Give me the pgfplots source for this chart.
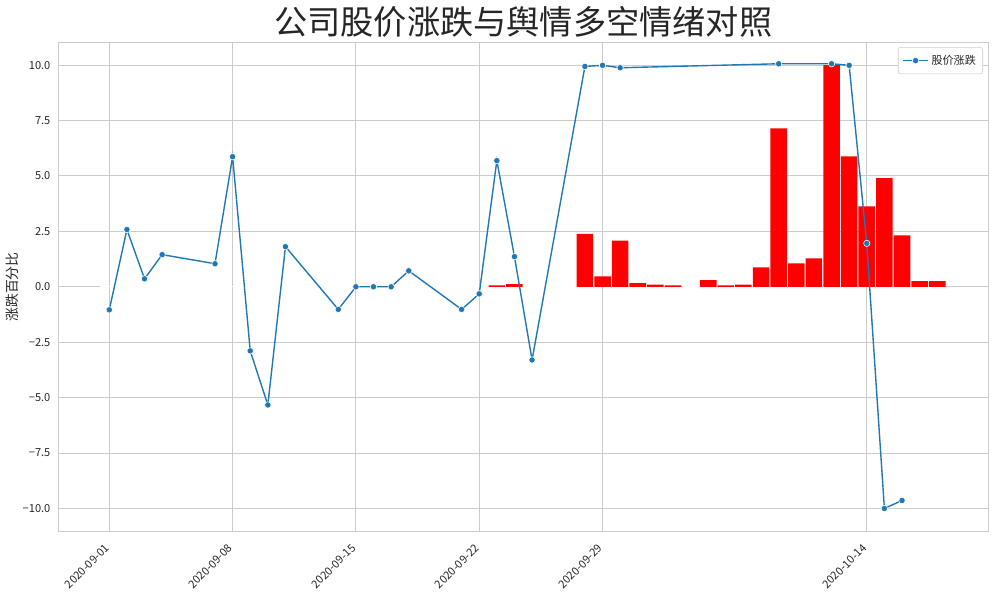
\documentclass[border=0pt]{standalone}
\usepackage{fontspec}
\setmainfont{Noto Sans CJK SC}
\usepackage{pgfplots}
\pgfplotsset{compat=1.18}
\definecolor{tab}{HTML}{1F77B4}
\definecolor{gridc}{HTML}{CCCCCC}
\definecolor{txt}{HTML}{262626}
\begin{document}
\begin{tikzpicture}
\begin{axis}[
  at={(0,0)}, anchor=south west,
  scale only axis, width=669.6bp, height=351.79bp,
  xmin=-2.895, xmax=49.9, ymin=-11.03, ymax=11.01,
  xtick={0,7,14,21,28,43},
  xticklabels={2020-09-01,2020-09-08,2020-09-15,2020-09-22,2020-09-29,2020-10-14},
  ytick={-10,-7.5,-5,-2.5,0,2.5,5,7.5,10},
  yticklabels={−10.0,−7.5,−5.0,−2.5,0.0,2.5,5.0,7.5,10.0},
  major tick length=0pt,
  grid=major, grid style={gridc, line width=0.75bp},
  axis line style={gridc, line width=0.9bp},
  tick label style={font=\fontsize{8}{9}\selectfont, text=txt},
  xticklabel style={inner sep=0pt, xshift=-3.6bp, yshift=-8.4bp, rotate=45, anchor=north east},
  yticklabel style={inner sep=0pt, xshift=-5.5bp, anchor=east},
  title={公司股价涨跌与舆情多空情绪对照},
  title style={at={(0.5,1)}, anchor=center, yshift=8.8bp, font=\fontsize{24}{28}\selectfont, text=txt},
  ylabel={涨跌百分比},
  every axis y label/.style={at={(axis description cs:0,0.5)}, xshift=-33.3bp, rotate=90, anchor=center, font=\fontsize{10}{12}\selectfont, text=txt},
  legend style={at={(1,1)}, anchor=north east, xshift=-3.8bp, yshift=-3.1bp, draw=gridc, rounded corners=2bp, font=\fontsize{8}{9}\selectfont, text=txt, inner xsep=3bp, inner ysep=3.5bp},
  legend cell align=left,
  legend image code/.code={\draw[mark repeat=2,mark phase=2] plot coordinates {(0bp,0bp) (9bp,0bp) (18bp,0bp)};},
]
% zero-height bars: their white edges hide the zero grid line
\addplot[ybar, bar width=1, fill=white, draw=white, line width=0.9bp, forget plot] coordinates {
(0,0) (1,0) (2,0) (3,0) (4,0) (5,0) (6,0) (7,0) (8,0) (9,0)
(10,0) (11,0) (12,0) (13,0) (14,0) (15,0) (16,0) (17,0) (18,0) (19,0)
(20,0) (21,0) (22,0) (23,0) (24,0) (25,0) (26,0) (27,0) (28,0) (29,0)
(30,0) (31,0) (32,0) (33,0) (34,0) (35,0) (36,0) (37,0) (38,0) (39,0)
(40,0) (41,0) (42,0) (43,0) (44,0) (45,0) (46,0) (47,0)
};
\addplot[ybar, bar width=0.94, fill=red, draw=none, forget plot] coordinates {
(22,0.06) (23,0.12) (27,2.39) (28,0.47) (29,2.08)
(30,0.16) (31,0.10) (32,0.06) (34,0.30) (35,0.06) (36,0.10) (37,0.88) (38,7.15) (39,1.06)
(40,1.28) (41,10.0) (42,5.88) (43,3.63) (44,4.90) (45,2.32) (46,0.25) (47,0.25)
};
\addplot[color=tab, line width=1bp, mark=*, mark size=2.3bp, mark options={fill=tab, draw=white, line width=0.4bp}] coordinates {
(0,-1.04) (1,2.58) (2,0.36) (3,1.45) (6,1.04) (7,5.87) (8,-2.89) (9,-5.33) (10,1.81)
(13,-1.02) (14,0) (15,0) (16,0) (17,0.72) (20,-1.02) (21,-0.32) (22,5.69) (23,1.36) (24,-3.30)
(27,9.94) (28,9.99) (29,9.88) (38,10.06) (41,10.06) (42,9.99) (43,1.96) (44,-10.0) (45,-9.64)
};
\addlegendentry{股价涨跌}
\end{axis}
\pgfresetboundingbox
\useasboundingbox (-41.98bp,-43.70bp) rectangle (679.46bp,382.54bp);
\end{tikzpicture}
\end{document}
